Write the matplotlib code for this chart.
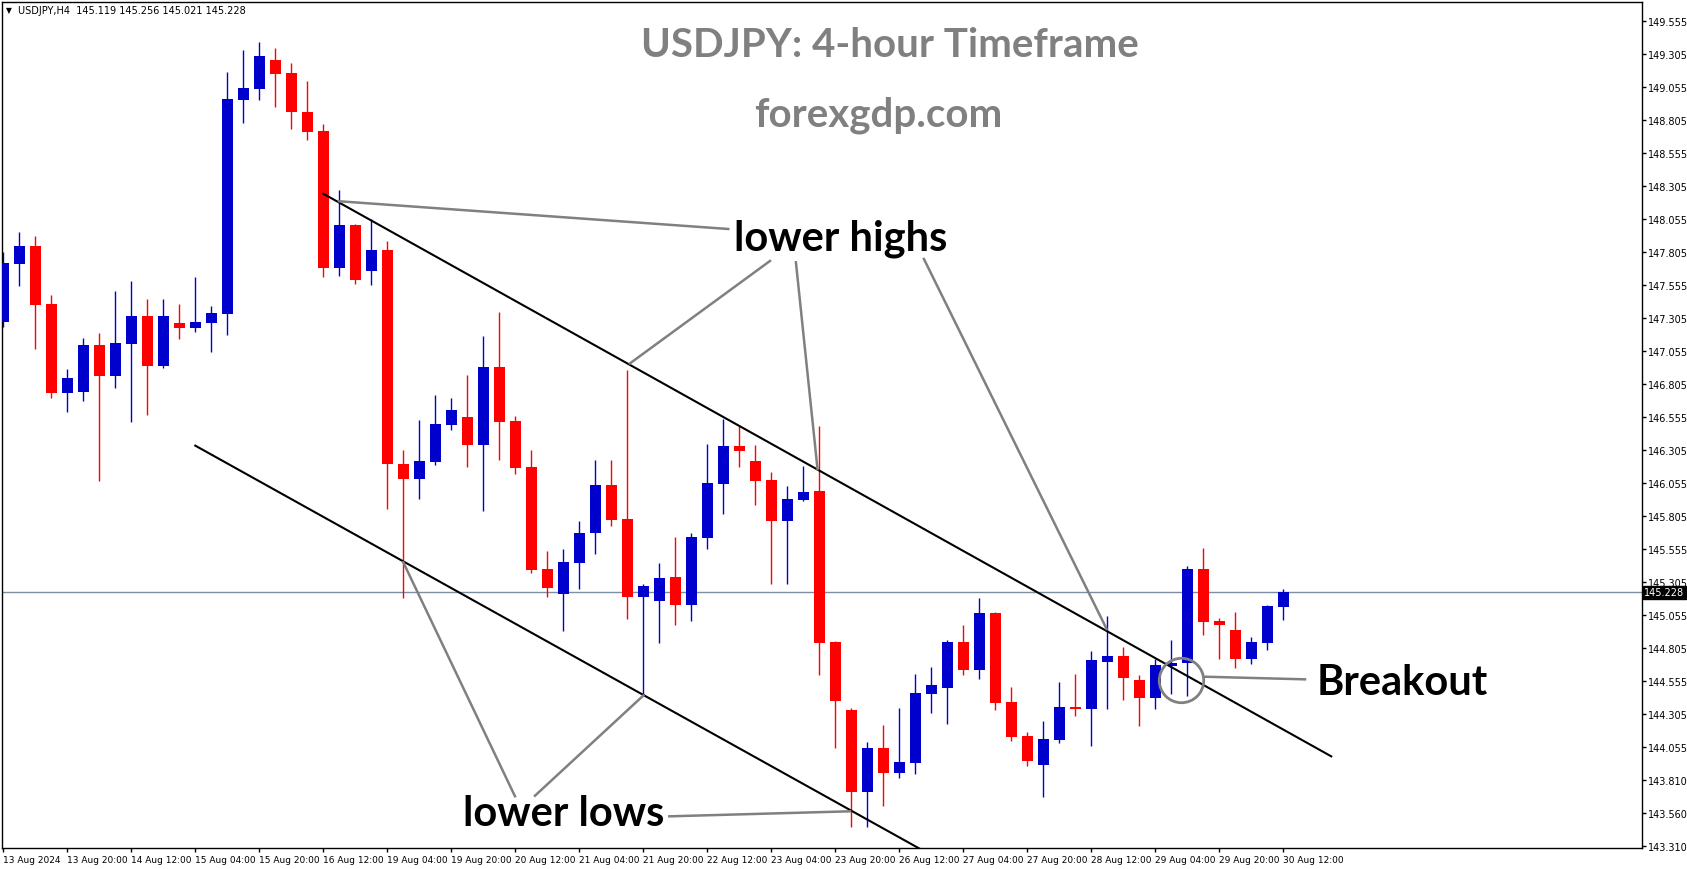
#candlestick chart of USDJPY H4 with channel lines and notes

import matplotlib.pyplot as plt
import numpy as np

#candle data, one value per 4-hour bar
opens = [147.272, 147.713, 147.850, 147.410, 146.739, 146.747, 147.100, 146.868, 147.110, 147.320,
         146.943, 147.267, 147.231, 147.269, 147.337, 148.957, 149.040, 149.257, 149.159, 148.864,
         148.720, 147.685, 148.008, 147.662, 147.819, 146.197, 146.088, 146.217, 146.497, 146.557,
         146.345, 146.933, 146.525, 146.176, 145.404, 145.217, 145.452, 145.679, 146.040, 145.783,
         145.192, 145.164, 145.344, 145.134, 145.641, 146.050, 146.335, 146.222, 146.080, 145.770,
         145.929, 145.997, 144.854, 144.337, 143.718, 144.049, 143.862, 143.938, 144.460, 144.506,
         144.852, 144.642, 145.071, 144.397, 144.140, 143.923, 144.112, 144.360, 144.347, 144.703,
         144.746, 144.564, 144.430, 144.672, 144.695, 145.404, 145.013, 144.945, 144.725, 144.846,
         145.119]
highs = [147.806, 147.958, 147.925, 147.481, 146.918, 147.153, 147.191, 147.509, 147.584, 147.448,
         147.448, 147.410, 147.615, 147.395, 149.167, 149.333, 149.394, 149.348, 149.235, 149.099,
         148.773, 148.273, 148.016, 148.054, 147.887, 146.305, 146.532, 146.721, 146.699, 146.873,
         147.168, 147.350, 146.563, 146.305, 145.541, 145.556, 145.768, 146.229, 146.229, 146.911,
         145.291, 145.450, 145.649, 145.677, 146.351, 146.540, 146.489, 146.345, 146.139, 146.033,
         146.184, 146.489, 144.859, 144.352, 144.095, 144.226, 144.352, 144.609, 144.662, 144.867,
         144.980, 145.185, 145.081, 144.511, 144.170, 144.254, 144.549, 144.609, 144.784, 145.049,
         144.814, 144.602, 144.723, 144.869, 145.429, 145.563, 145.033, 145.079, 144.890, 145.134,
         145.256]
lows = [147.234, 147.549, 147.070, 146.701, 146.595, 146.678, 146.073, 146.777, 146.519, 146.572,
        146.928, 147.145, 147.201, 147.049, 147.178, 148.783, 148.957, 148.904, 148.737, 148.654,
        147.617, 147.625, 147.564, 147.557, 145.861, 145.187, 145.936, 146.194, 146.459, 146.179,
        145.846, 146.232, 146.126, 145.376, 145.195, 144.937, 145.253, 145.518, 145.732, 145.028,
        144.451, 144.846, 144.983, 145.013, 145.558, 145.823, 146.179, 145.891, 145.293, 145.293,
        145.920, 144.604, 144.049, 143.449, 143.449, 143.608, 143.824, 143.855, 144.314, 144.233,
        144.604, 144.574, 144.339, 144.105, 143.915, 143.681, 144.089, 144.294, 144.067, 144.347,
        144.415, 144.218, 144.347, 144.458, 144.445, 144.907, 144.725, 144.657, 144.687, 144.793,
        145.021]
closes = [147.721, 147.850, 147.405, 146.739, 146.850, 147.100, 146.868, 147.115, 147.320, 146.943,
          147.320, 147.231, 147.274, 147.342, 148.962, 149.046, 149.288, 149.154, 148.866, 148.715,
          147.685, 148.008, 147.594, 147.819, 146.197, 146.083, 146.222, 146.502, 146.608, 146.345,
          146.933, 146.519, 146.171, 145.399, 145.263, 145.457, 145.677, 146.040, 145.778, 145.195,
          145.276, 145.336, 145.134, 145.647, 146.055, 146.335, 146.300, 146.073, 145.770, 145.936,
          145.987, 144.844, 144.407, 143.718, 144.049, 143.862, 143.943, 144.466, 144.526, 144.852,
          144.642, 145.071, 144.392, 144.135, 143.953, 144.117, 144.360, 144.347, 144.715, 144.746,
          144.581, 144.430, 144.678, 144.693, 145.404, 145.005, 144.983, 144.725, 144.852, 145.124,
          145.228]

#time labels, one every 4 bars
xlabels = ["13 Aug 2024", "13 Aug 20:00", "14 Aug 12:00", "15 Aug 04:00", "15 Aug 20:00",
           "16 Aug 12:00", "19 Aug 04:00", "19 Aug 20:00", "20 Aug 12:00", "21 Aug 04:00",
           "21 Aug 20:00", "22 Aug 12:00", "23 Aug 04:00", "23 Aug 20:00", "26 Aug 12:00",
           "27 Aug 04:00", "27 Aug 20:00", "28 Aug 12:00", "29 Aug 04:00", "29 Aug 20:00",
           "30 Aug 12:00"]
yticks = [149.555, 149.305, 149.055, 148.805, 148.555, 148.305, 148.055, 147.805, 147.555,
          147.305, 147.055, 146.805, 146.555, 146.305, 146.055, 145.805, 145.555, 145.305,
          145.055, 144.805, 144.555, 144.305, 144.055, 143.810, 143.560, 143.310]
last_price = 145.228

#channel lines (bar index, price)
upper_x = [20.0, 83.0]
upper_y = [148.245, 143.986]
lower_x = [12.0, 58.0]
lower_y = [146.338, 143.238]

#pointer lines for the notes
pointers = [
    ([20.98, 45.31], [148.188, 147.978]),
    ([47.92, 39.17], [147.736, 146.961]),
    ([49.54, 50.89], [147.726, 146.161]),
    ([57.54, 68.96], [147.751, 144.950]),
    ([31.98, 25.0], [143.684, 145.455]),
    ([33.23, 40.0], [143.688, 144.446]),
    ([41.63, 52.92], [143.532, 143.570]),
    ([75.04, 81.36], [144.589, 144.569]),
]
breakout_x = 73.61
breakout_y = 144.564

#create figure
fig = plt.figure(figsize=(16.87, 8.70), dpi=100)
ax = fig.add_axes([0.00148, 0.02379, 0.97155, 0.97333])

x = np.arange(len(opens))
o = np.array(opens)
h = np.array(highs)
l = np.array(lows)
c = np.array(closes)
colors = np.where(c >= o, '#0000cc', '#ff0000')

#current price line
ax.axhline(last_price, color='#7d8ea0', lw=1, zorder=1)

#candles
ax.vlines(x, l, h, colors=colors, lw=1, zorder=2)
ax.bar(x, np.maximum(np.abs(c - o), 0.008), bottom=np.minimum(o, c), width=0.69,
       color=colors, linewidth=0, zorder=3)

#channel
ax.plot(upper_x, upper_y, color='black', lw=1.5, zorder=4)
ax.plot(lower_x, lower_y, color='black', lw=1.5, zorder=4)

#pointer lines and circle
for px, py in pointers:
    ax.plot(px, py, color='#808080', lw=1.8, zorder=5)
ax.plot(breakout_x, breakout_y, 'o', ms=32, mfc='none', mec='#808080', mew=2, zorder=5)

#notes
note_font = dict(family='Lato', fontweight='bold', ha='center', va='baseline', zorder=6)
ax.text(55.42, 149.288, "USDJPY: 4-hour Timeframe", color='#808080', fontsize=29, **note_font)
ax.text(54.67, 148.765, "forexgdp.com", color='#808080', fontsize=29, **note_font)
ax.text(52.36, 147.821, "lower highs", color='black', fontsize=30, **note_font)
ax.text(35.03, 143.466, "lower lows", color='black', fontsize=30, **note_font)
ax.text(87.42, 144.458, "Breakout", color='black', fontsize=30, **note_font)

#header
ax.text(0.002, 0.9903, "\u25bc", transform=ax.transAxes, fontsize=5.5, va='center', ha='left')
ax.text(0.0095, 0.9903, "USDJPY,H4  145.119 145.256 145.021 145.228", transform=ax.transAxes,
        fontsize=7, va='center', ha='left')

#axes
ax.set_xlim(-0.05, 102.39)
ax.set_ylim(143.290, 149.700)
ax.set_xticks(list(range(0, len(opens), 4)))
ax.set_xticklabels(xlabels)
for lab in ax.get_xticklabels():
    lab.set_ha('left')
ax.yaxis.tick_right()
ax.set_yticks(yticks)
ax.set_yticklabels(["%.3f" % v for v in yticks])
ax.tick_params(axis='both', direction='out', length=3, width=1, pad=1.5)
ax.tick_params(axis='x', labelsize=6.5)
ax.tick_params(axis='y', labelsize=7)
for s in ax.spines.values():
    s.set_color('black')
    s.set_linewidth(1)

#price tag on the axis
ax.text(1.0015, last_price, "%.3f" % last_price, transform=ax.get_yaxis_transform(),
        color='white', fontsize=7, va='center', ha='left', clip_on=False,
        bbox=dict(boxstyle='square,pad=0.15', fc='black', ec='black'))

fig.savefig("out.png", dpi=100)
